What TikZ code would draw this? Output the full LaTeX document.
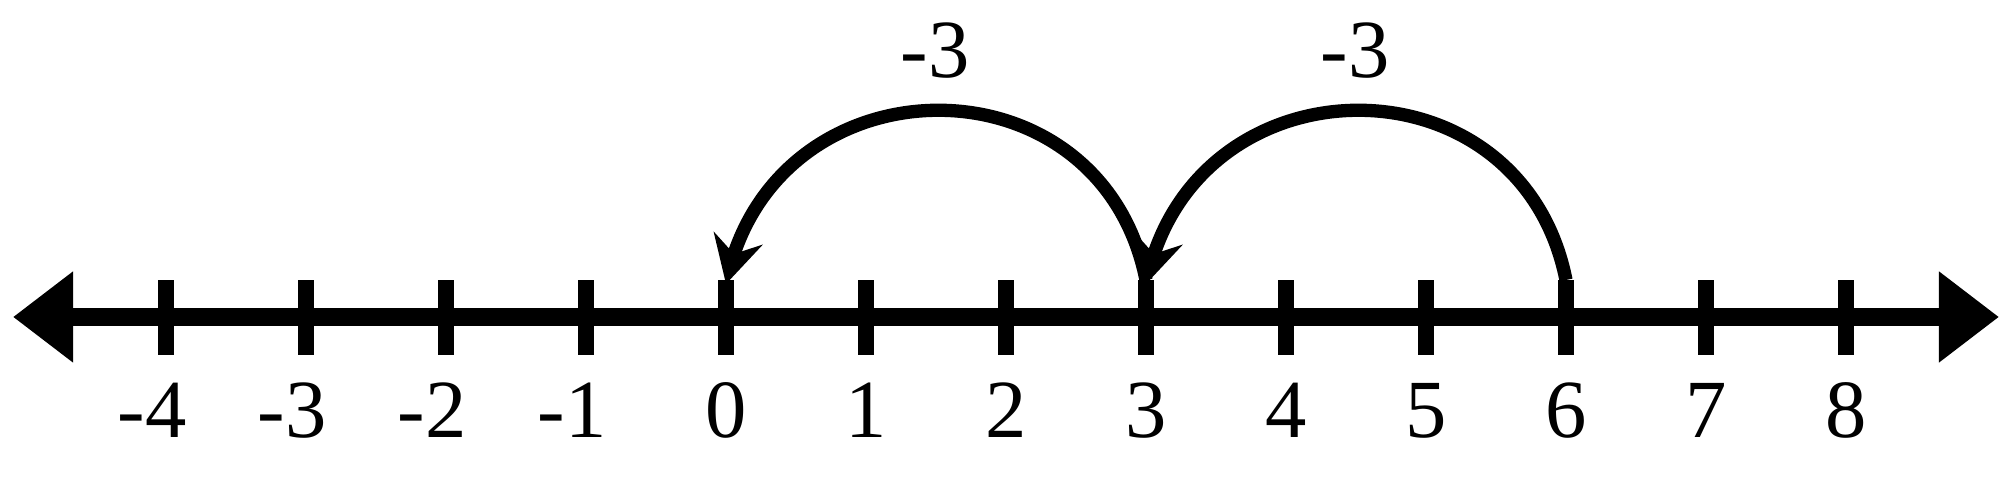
\documentclass[tikz,border=0pt]{standalone}
\usepackage{fontspec}
\setmainfont{Liberation Serif}
\usetikzlibrary{arrows.meta,bending}
\begin{document}
\begin{tikzpicture}[x=0.01cm,y=0.01cm,
  axisline/.style={line width=0.175cm,
    {Triangle[length=0.6cm,width=0.87cm]}-{Triangle[length=0.6cm,width=0.87cm]}},
  tickmark/.style={fill=black,draw=none,inner sep=0pt,minimum width=0.163cm,minimum height=0.75cm,rectangle},
  numlab/.style={anchor=base,inner sep=0pt,font=\fontsize{23.5}{28}\selectfont},
  jump/.style={line width=0.133cm,-{Stealth[length=0.47cm,width=0.5cm,inset=0.16cm]}}]
\useasboundingbox (0,0) rectangle (2011,492);
\coordinate (lend) at (13,175);
\coordinate (rend) at (1999,175);
\draw[axisline] (lend) -- (rend);
\foreach \n/\t [evaluate=\n as \x using 726+140*\n] in
  {-4/{\llap{-}4},-3/{\llap{-}3},-2/{\llap{-}2},-1/{\llap{-}1},0/0,1/1,2/2,3/3,4/4,5/5,6/6,7/7,8/8}{
  \node[tickmark] (k\n) at (\x,174.5) {};
  \node[numlab] (l\n) at (\x,54) {\t};
}
\coordinate (a0) at (726,208);
\coordinate (s3) at (1146,212);
\coordinate (a3) at (1146,208);
\coordinate (s6) at (1566,212);
\draw[jump] (s3) to[out=101.3,in=78.7,looseness=1.42] (a0);
\draw[jump] (s6) to[out=101.3,in=78.7,looseness=1.42] (a3);
\node[numlab] (j1) at (935,414) {-3};
\node[numlab] (j2) at (1355,414) {-3};
\end{tikzpicture}
\end{document}
